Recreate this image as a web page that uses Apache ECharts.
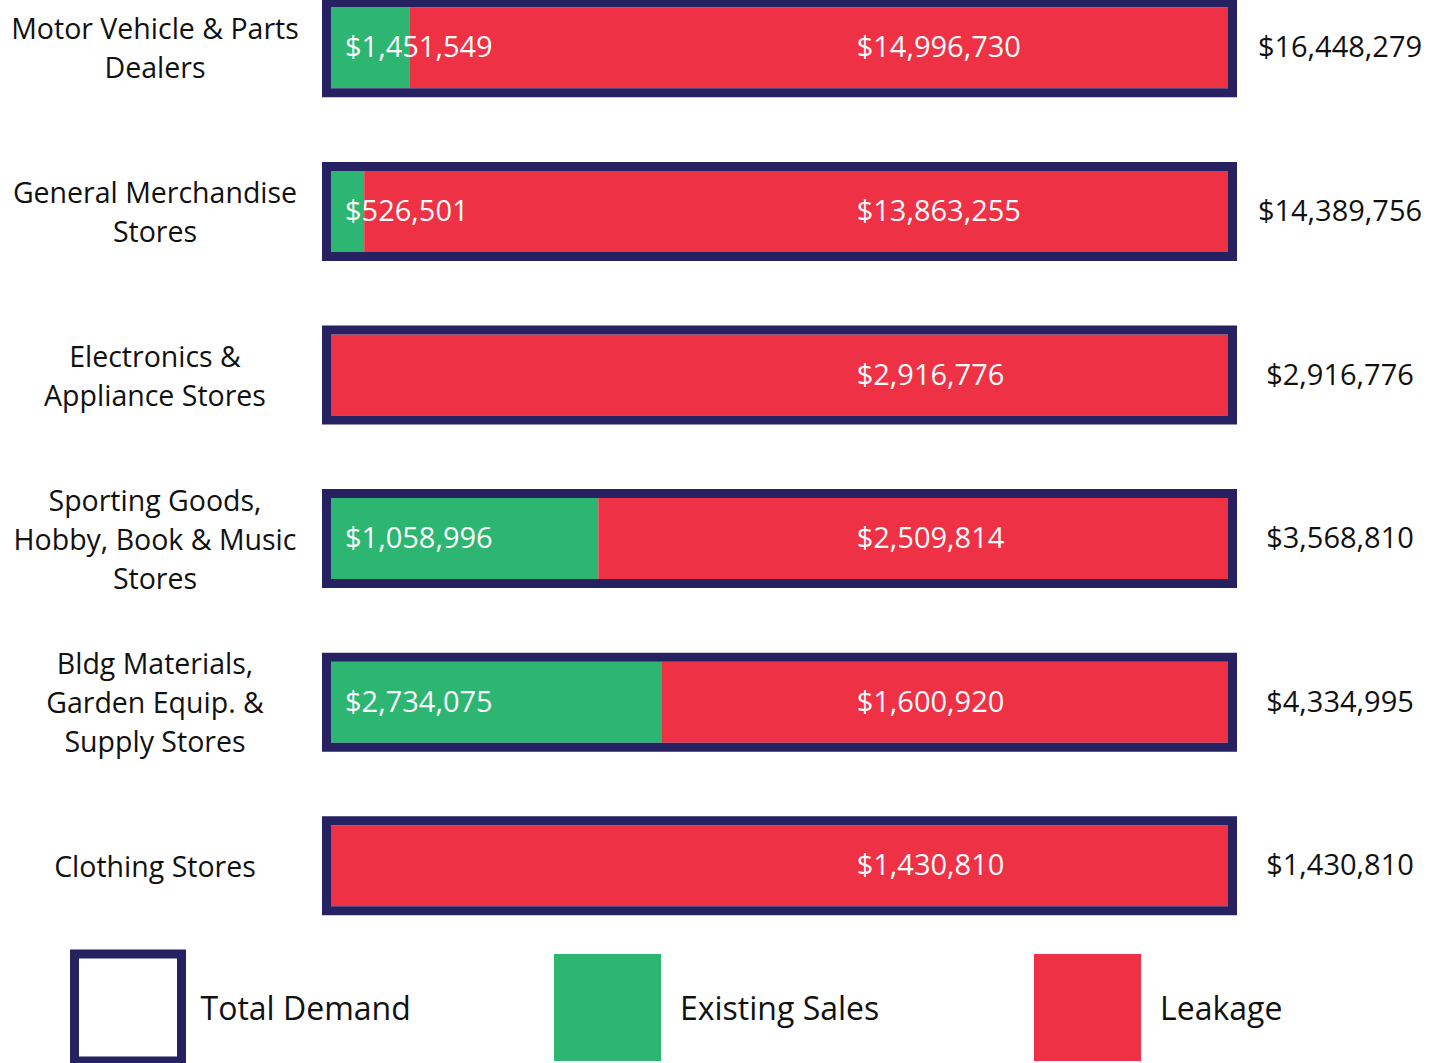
<!DOCTYPE html>
<html>
<head>
<meta charset="utf-8">
<script src="https://cdn.jsdelivr.net/npm/echarts@6/dist/echarts.min.js"></script>
<style>
html,body{margin:0;padding:0;background:#fff;}
#chart{width:1441px;height:1063px;}
</style>
</head>
<body>
<div id="chart"></div>
<script>
const categories = [
  'Motor Vehicle & Parts\nDealers',
  'General Merchandise\nStores',
  'Electronics &\nAppliance Stores',
  'Sporting Goods,\nHobby, Book & Music\nStores',
  'Bldg Materials,\nGarden Equip. &\nSupply Stores',
  'Clothing Stores'
];
const existingSales = [1451549, 526501, 0, 1058996, 2734075, 0];
const leakage = [14996730, 13863255, 2916776, 2509814, 1600920, 1430810];
const totalDemand = [16448279, 14389756, 2916776, 3568810, 4334995, 1430810];
// share of each bar drawn green (fraction of total demand)
const existingShare = [0.088, 0.037, 0, 0.298, 0.369, 0];
const legendNames = ['Total Demand', 'Existing Sales', 'Leakage'];

const NAVY = '#262262';
const GREEN = '#2db572';
const RED = '#ee3144';
const FONT = '"Open Sans", "Noto Sans", sans-serif';
const LEAK_LABEL_POS = 0.586;

const fmt = v => '$' + v.toLocaleString('en-US');
const leakageShare = existingShare.map(s => 1 - s);

function renderFrame(params, api) {
  const i = params.dataIndex;
  const p0 = api.coord([0, i]);
  const p1 = api.coord([api.value(0), i]);
  const lx = api.coord([LEAK_LABEL_POS, i])[0];
  return {
    type: 'group',
    children: [
      { type: 'rect', shape: { x: p0[0] - 4.5, y: p0[1] - 45, width: p1[0] - p0[0] + 9, height: 90 },
        style: { fill: 'none', stroke: NAVY, lineWidth: 9 } },
      { type: 'text', style: { text: fmt(leakage[i]), x: lx, y: p0[1] - 2, fill: '#fbfbfb',
        fontSize: 29, fontFamily: FONT, align: 'left', verticalAlign: 'middle' } },
      { type: 'text', style: { text: fmt(api.value(2)), x: p1[0] + 112, y: p0[1] - 2, fill: '#111',
        fontSize: 29, fontFamily: FONT, align: 'center', verticalAlign: 'middle' } }
    ]
  };
}

const legendBase = {
  orient: 'horizontal', padding: 0, itemWidth: 107, itemHeight: 107, selectedMode: false,
  textStyle: { fontSize: 32, fontFamily: FONT, color: '#111', padding: [0, 0, 0, 14] }
};

const chart = echarts.init(document.getElementById('chart'), null, { renderer: 'svg' });
chart.setOption({
  animation: false,
  backgroundColor: '#fff',
  grid: { left: 331, right: 213, top: -34, height: 981.6, outerBoundsMode: 'none', containLabel: false },
  xAxis: { type: 'value', min: 0, max: 1, show: false },
  yAxis: {
    type: 'category', data: categories, inverse: true,
    axisLine: { show: false }, axisTick: { show: false },
    axisLabel: { margin: 176, align: 'center', fontSize: 28.5, lineHeight: 39, fontFamily: FONT, color: '#111' }
  },
  legend: [
    Object.assign({}, legendBase, { left: 70, top: 949.5,
      data: [{ name: legendNames[0], icon: 'rect', itemStyle: { color: '#fff', borderColor: NAVY, borderWidth: 9 } }] }),
    Object.assign({}, legendBase, { left: 554, top: 954,
      data: [{ name: legendNames[1], icon: 'rect', itemStyle: { color: GREEN, borderWidth: 0 } }] }),
    Object.assign({}, legendBase, { left: 1034, top: 954,
      data: [{ name: legendNames[2], icon: 'rect', itemStyle: { color: RED, borderWidth: 0 } }] })
  ],
  series: [
    {
      name: legendNames[1], type: 'bar', stack: 'd', barWidth: 81, data: existingShare,
      itemStyle: { color: GREEN },
      label: { show: true, position: 'insideLeft', distance: 14, color: '#fbfbfb', fontSize: 29, fontFamily: FONT,
        offset: [0, -2],
        formatter: p => existingSales[p.dataIndex] > 0 ? fmt(existingSales[p.dataIndex]) : '' }
    },
    {
      name: legendNames[2], type: 'bar', stack: 'd', barWidth: 81, data: leakageShare,
      itemStyle: { color: RED }
    },
    {
      name: legendNames[0], type: 'custom', z: 5, clip: false,
      data: totalDemand.map((t, i) => [1, i, t]),
      encode: { x: 0, y: 1 },
      renderItem: renderFrame,
      itemStyle: { color: '#fff', borderColor: NAVY }
    }
  ]
});
</script>
</body>
</html>
